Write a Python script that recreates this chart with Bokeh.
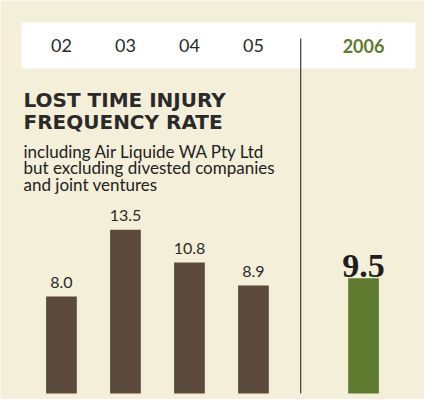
from bokeh.plotting import figure
from bokeh.models import FactorRange, Range1d, BoxAnnotation, Label, ColumnDataSource
from bokeh.core.properties import value
from bokeh.embed import file_html
from bokeh.resources import INLINE

# ---- data ----
past_years = ["02", "03", "04", "05"]
past_ltifr = [8.0, 13.5, 10.8, 8.9]
current_year = ["2006"]
current_ltifr = [9.5]

title_lines = ["LOST TIME INJURY", "FREQUENCY RATE"]
subtitle_lines = ["including Air Liquide WA Pty Ltd",
                  "but excluding divested companies",
                  "and joint ventures"]

# ---- style ----
BEIGE = "#F3EFD8"
BROWN = "#5C4B3C"
GREEN = "#5E7A2E"
INK = "#2A2A2A"

W, H = 424, 399
PX_PER_UNIT = 12.13          # vertical scale
BASE_PX = 6                  # zero line above canvas bottom
GROUP_PAD = 0.72

past_f = [("past", y) for y in past_years]
cur_f = [("now", y) for y in current_year]

x_range = FactorRange(*(past_f + cur_f), group_padding=GROUP_PAD,
                      range_padding=0.4525, range_padding_units="absolute")
y_range = Range1d(-BASE_PX / PX_PER_UNIT, (H - BASE_PX) / PX_PER_UNIT)

p = figure(width=W, height=H, x_range=x_range, y_range=y_range,
           output_backend="svg", toolbar_location=None,
           x_axis_location=None, y_axis_location=None,
           min_border=0, outline_line_color=None,
           background_fill_color=BEIGE, border_fill_color=BEIGE)
p.grid.visible = False

# white header band
band = BoxAnnotation(left=21, right=415, top=377, bottom=331,
                     left_units="screen", right_units="screen",
                     top_units="screen", bottom_units="screen",
                     fill_color="white", fill_alpha=1.0, line_color=None,
                     level="underlay")
p.add_layout(band)

# bars
past_src = ColumnDataSource(dict(x=past_f, v=past_ltifr,
                                 t=[f"{v:.1f}" for v in past_ltifr]))
cur_src = ColumnDataSource(dict(x=cur_f, v=current_ltifr,
                                t=[f"{v:.1f}" for v in current_ltifr]))
p.vbar(x="x", top="v", width=0.48, source=past_src,
       fill_color=BROWN, line_color=None)
p.vbar(x="x", top="v", width=0.48, source=cur_src,
       fill_color=GREEN, line_color=None)

# value labels
p.text(x="x", y="v", text="t", source=past_src, y_offset=-14,
       text_align="center", text_baseline="alphabetic",
       text_font=value("Lato"), text_font_size="16px", text_color=INK)
p.text(x="x", y="v", text="t", source=cur_src, y_offset=-12,
       text_align="center", text_baseline="alphabetic",
       text_font=value("Liberation Serif"), text_font_style="bold",
       text_font_size="34px", text_color="#1E1E1E")

# divider between history and current year
n_past = len(past_years)
div_x = n_past + GROUP_PAD * 0.33
div_top = (401 - 46) / PX_PER_UNIT
p.segment(x0=[div_x], y0=[0], x1=[div_x], y1=[div_top],
          line_color="#4A4A4A", line_width=1.3)

# year labels in the header band
year_y = (401 - 53) / PX_PER_UNIT
p.text(x=past_f, y=[year_y] * n_past, text=past_years,
       text_align="center", text_baseline="middle",
       text_font=value("Lato"), text_font_size="18px", text_color=INK)
p.text(x=cur_f, y=[year_y], text=current_year,
       text_align="center", text_baseline="middle",
       text_font=value("Lato"), text_font_style="bold",
       text_font_size="18px", text_color=GREEN)

# title and subtitle
for line, yb in zip(title_lines, [300, 278]):
    p.add_layout(Label(x=23, y=yb, x_units="screen", y_units="screen",
                       text=line, text_font="DejaVu Sans", text_font_style="bold",
                       text_font_size="20px", text_color=INK,
                       text_baseline="alphabetic"))
for line, yb in zip(subtitle_lines, [248, 232, 215]):
    p.add_layout(Label(x=23, y=yb, x_units="screen", y_units="screen",
                       text=line, text_font="Lato",
                       text_font_size="17px", text_color="#222222",
                       text_baseline="alphabetic"))

open("out.html", "w").write(file_html(p, INLINE))
